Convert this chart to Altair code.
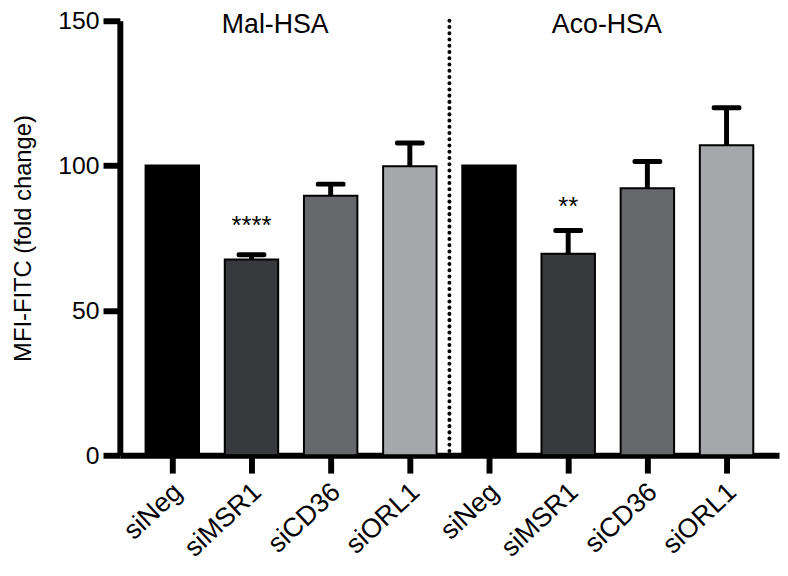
import altair as alt
import pandas as pd

groups = ["Mal", "Mal", "Mal", "Mal", "Aco", "Aco", "Aco", "Aco"]
sirna = ["siNeg", "siMSR1", "siCD36", "siORL1", "siNeg", "siMSR1", "siCD36", "siORL1"]
means = [100, 67.6, 89.6, 99.8, 100, 69.6, 92.2, 107.0]
errs = [0, 1.6, 4.0, 8.0, 0, 8.0, 9.2, 13.0]
colors = ["#000000", "#38393c", "#67686b", "#a5a7aa", "#000000", "#38393c", "#67686b", "#a5a7aa"]

star_keys = ["Mal|siMSR1", "Aco|siMSR1"]
star_text = ["****", "**"]
star_level = [76.5, 82.8]

group_titles = ["Mal-HSA", "Aco-HSA"]
title_keys = ["Mal|siCD36", "Aco|siMSR1"]

keys = [f"{g}|{s}" for g, s in zip(groups, sirna)]
df = pd.DataFrame({"key": keys, "mean": means, "err": errs, "color": colors})
df["upper"] = df["mean"] + df["err"]
df_err = df[df["err"] > 0]

stars = pd.DataFrame({"key": star_keys, "txt": star_text, "y": star_level})
sep = pd.DataFrame({"key": ["Mal|siORL1"], "y": [150], "y2": [0]})

FONT = "Liberation Sans"

xscale = alt.Scale(domain=keys, paddingInner=0.325, paddingOuter=0.325)
yscale = alt.Scale(domain=[0, 150], nice=False)

x = alt.X("key:N", scale=xscale, sort=keys, title=None,
          axis=alt.Axis(labelExpr="split(datum.label, '|')[1]", labelAngle=-43,
                        labelAlign="right", labelBaseline="middle",
                        labelFont=FONT, labelFontSize=27, labelColor="#000",
                        labelPadding=15, labelOffset=6, tickSize=18, tickWidth=6,
                        tickColor="#000", domainWidth=6, domainColor="#000", grid=False,
                        labelOverlap=False, labelBound=False, domainCap="butt"))
y = alt.Y("mean:Q", scale=yscale,
          axis=alt.Axis(values=[0, 50, 100, 150], title="MFI-FITC (fold change)",
                        titleFont=FONT, titleFontSize=24, titleFontWeight="normal",
                        titleColor="#000", titlePadding=23,
                        labelFont=FONT, labelFontSize=25, labelColor="#000",
                        labelPadding=4, tickSize=17, tickWidth=6, tickColor="#000",
                        domainWidth=6, domainColor="#000", grid=False))

bars = alt.Chart(df).mark_bar(stroke="#000", strokeWidth=2).encode(
    x=x, y=y, color=alt.Color("color:N", scale=None))

rules = alt.Chart(df_err).mark_rule(strokeWidth=5, color="#000").encode(
    x=alt.X("key:N", scale=xscale, sort=keys), y="mean:Q", y2="upper:Q")

caps = alt.Chart(df_err).mark_tick(size=30, thickness=5, color="#000", opacity=1,
                                    cornerRadius=2).encode(
    x=alt.X("key:N", scale=xscale, sort=keys), y=alt.Y("upper:Q", scale=yscale))

star_layer = alt.Chart(stars).mark_text(font=FONT, fontSize=26, color="#000",
                                        baseline="alphabetic").encode(
    x=alt.X("key:N", scale=xscale, sort=keys), y=alt.Y("y:Q", scale=yscale), text="txt:N")

sep_layer = alt.Chart(sep).mark_rule(strokeWidth=4, color="#000", strokeDash=[0.1, 6.2],
                                     strokeCap="round", xOffset=13).encode(
    x=alt.X("key:N", scale=xscale, sort=keys, bandPosition=1),
    y=alt.Y("y:Q", scale=yscale), y2="y2:Q")

t1 = alt.Chart(pd.DataFrame({"key": [title_keys[0]], "t": [group_titles[0]], "y": [150]})).mark_text(
    font=FONT, fontSize=27, color="#000", baseline="alphabetic", dx=-29, dy=12).encode(
    x=alt.X("key:N", scale=xscale, sort=keys, bandPosition=0),
    y=alt.Y("y:Q", scale=yscale), text="t:N")
t2 = alt.Chart(pd.DataFrame({"key": [title_keys[1]], "t": [group_titles[1]], "y": [150]})).mark_text(
    font=FONT, fontSize=27, color="#000", baseline="alphabetic", dx=39, dy=12).encode(
    x=alt.X("key:N", scale=xscale, sort=keys),
    y=alt.Y("y:Q", scale=yscale), text="t:N")

chart = alt.layer(bars, sep_layer, rules, caps, star_layer, t1, t2).properties(
    width=666, height=439,
    autosize=alt.AutoSizeParams(type="none"),
    padding={"left": 113, "top": 10, "right": 1, "bottom": 111},
    background="white",
).configure_view(stroke=None)

chart.save("out.html", embed_options={"renderer": "svg", "actions": False})
